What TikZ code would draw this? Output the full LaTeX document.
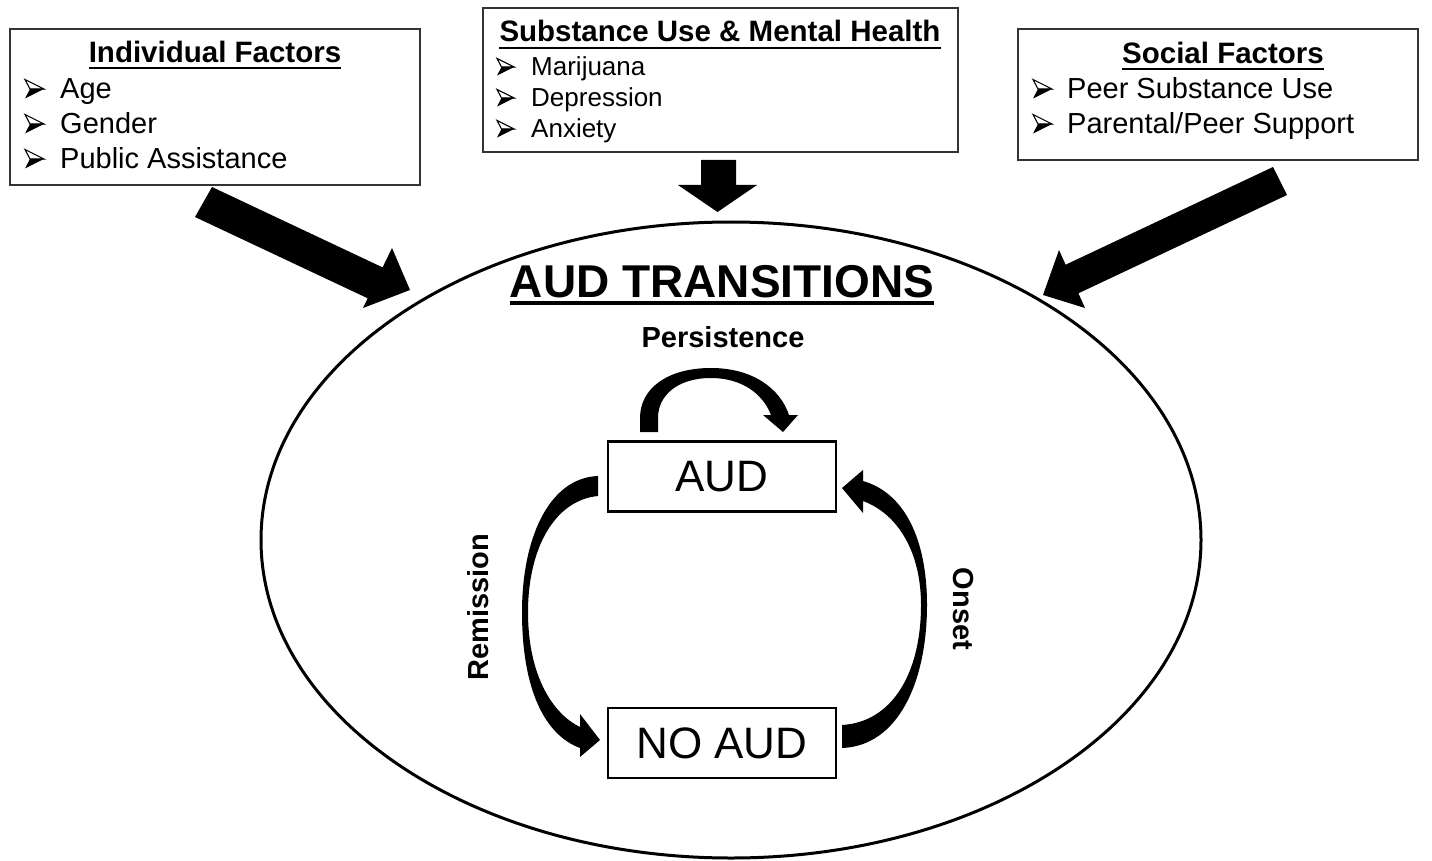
\documentclass[tikz,border=0pt]{standalone}
\usepackage{fontspec}
\setmainfont{Liberation Sans}
\usetikzlibrary{shapes.geometric}
\begin{document}
\begin{tikzpicture}[x=1pt,y=-1pt,
  fbox/.style={draw=black!80, line width=1.5pt, rectangle, inner sep=0pt},
  ttl/.style={font=\fontsize{29.5}{32}\selectfont\bfseries, inner sep=0pt, anchor=base},
  itm/.style={font=\fontsize{29}{32}\selectfont, inner sep=0pt, anchor=base west},
  itms/.style={font=\fontsize{26}{29}\selectfont, inner sep=0pt, anchor=base west},
  bul/.pic={
    \draw[line width=1.1pt, line join=miter] (0,-9.5) -- (19,0) -- (5,0) -- cycle;
    \fill[line join=miter] (5,0) -- (19,0) -- (0,9.5) -- cycle;
  },
  ulin/.style={line width=2.5pt},
  statebox/.style={draw, line width=2.5pt, rectangle, minimum width=228pt, minimum height=70pt, font=\fontsize{44}{48}\selectfont, inner sep=0pt},
  lbl/.style={font=\fontsize{29}{32}\selectfont\bfseries, inner sep=0pt},
  blk/.style={fill=black, draw=none}
]
\useasboundingbox (0,0) rectangle (1432,861);
\fill[white] (0,0) rectangle (1432,861);

% ---- top boxes ----
\node[fbox, minimum width=410pt, minimum height=156pt] (ind) at (215,107) {};
\node[ttl] (indt) at (215,63) {Individual Factors};
\draw[ulin] ([yshift=-5pt]indt.base west) -- ([yshift=-5pt]indt.base east);
\pic at (25,89) {bul};
\node[itm] (i1) at (60,99) {Age};
\pic at (25,124) {bul};
\node[itm] (i2) at (60,134) {Gender};
\pic at (25,159) {bul};
\node[itm] (i3) at (60,169) {Public Assistance};

\node[fbox, minimum width=475pt, minimum height=144pt] (sub) at (720.5,80) {};
\node[ttl] (subt) at (720,42) {Substance Use \& Mental Health};
\draw[ulin] ([yshift=-6pt]subt.base west) -- ([yshift=-6pt]subt.base east);
\pic[scale=0.9] at (497,67) {bul};
\node[itms] (s1) at (531,76) {Marijuana};
\pic[scale=0.9] at (497,98) {bul};
\node[itms] (s2) at (531,107) {Depression};
\pic[scale=0.9] at (497,129) {bul};
\node[itms] (s3) at (531,138) {Anxiety};

\node[fbox, minimum width=400pt, minimum height=131pt] (soc) at (1218,94.5) {};
\node[ttl] (soct) at (1223,64) {Social Factors};
\draw[ulin] ([yshift=-5pt]soct.base west) -- ([yshift=-5pt]soct.base east);
\pic at (1033,89) {bul};
\node[itm] (c1) at (1067,99) {Peer Substance Use};
\pic at (1033,124) {bul};
\node[itm] (c2) at (1067,134) {Parental/Peer Support};

% ---- big block arrows ----
\fill[blk] (212,187) -- (382.6,267.4) -- (392,248) -- (410,290) -- (363,308) -- (367.7,298.3) -- (195,217) -- cycle;
\fill[blk] (1273,167) -- (1065.6,264.7) -- (1059,250) -- (1043,295) -- (1085,308) -- (1078.4,293.3) -- (1287,195) -- cycle;
\fill[blk] (701,160) -- (736,160) -- (736,185) -- (757,185) -- (717.5,212) -- (678,185) -- (701,185) -- cycle;

% ---- ellipse ----
\node[draw, ellipse, line width=3pt, minimum width=940pt, minimum height=636pt, inner sep=0pt] (ell) at (731,540) {};
\node[font=\fontsize{46}{50}\selectfont\bfseries, inner sep=0pt, anchor=base] (title) at (722,297) {AUD TRANSITIONS};
\draw[line width=3.5pt] ([yshift=-6pt]title.base west) -- ([yshift=-6pt]title.base east);
\node[lbl, anchor=base] (pers) at (723,347) {Persistence};

% ---- states ----
\node[statebox] (aud) at (722,476.5) {AUD};
\node[statebox] (noaud) at (722,743) {NO AUD};

% ---- curved arrows ----
\fill[blk] (640,432) -- (640,418) .. controls (640,388) and (668,368) .. (711,368) .. controls (752,368) and (780,388) .. (789,415) -- (798,415) -- (783,432) -- (763,415) -- (771,415) .. controls (763,394) and (742,378) .. (711,378) .. controls (678,378) and (658,395) .. (658,418) -- (658,432) -- cycle;
\fill[blk] (598,476) .. controls (548,478) and (522,540) .. (522,612) .. controls (522,690) and (545,735) .. (580,748) -- (580,757) -- (600,740) -- (580,714) -- (580,727) .. controls (553,714) and (528,676) .. (528,612) .. controls (528,548) and (555,500) .. (598,496) -- cycle;
\fill[blk] (842,748) .. controls (898,746) and (927,682) .. (927,605) .. controls (927,540) and (905,493) .. (863,481) -- (863,470) -- (842,488) -- (863,513) -- (863,501) .. controls (898,514) and (921,552) .. (921,605) .. controls (921,672) and (893,722) .. (842,725) -- cycle;

\node[lbl, rotate=90] (rem) at (478,607) {Remission};
\node[lbl, rotate=-90] (ons) at (963,609) {Onset};
\end{tikzpicture}
\end{document}
